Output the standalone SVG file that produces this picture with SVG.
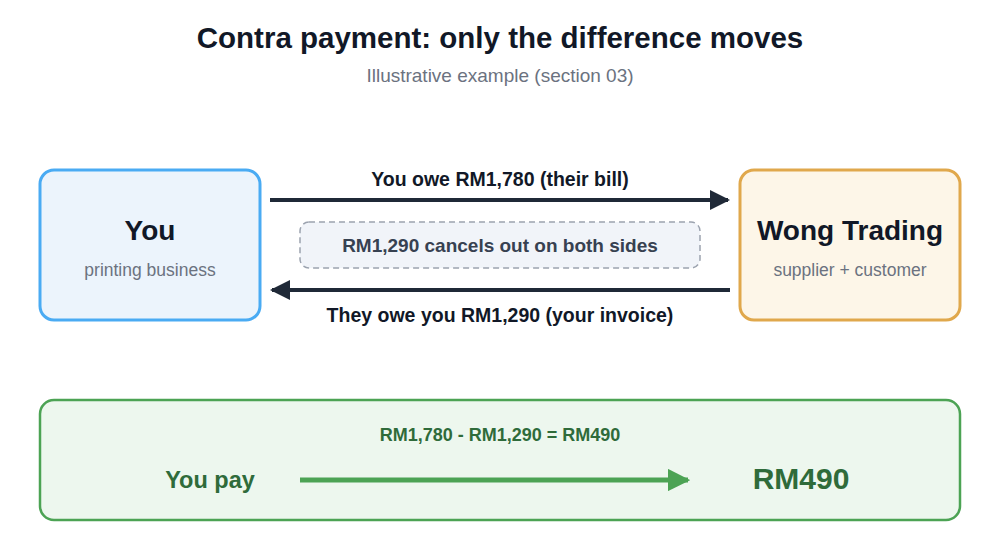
<svg xmlns="http://www.w3.org/2000/svg" width="1000" height="545" viewBox="0 0 1000 545">
<style>
text{font-family:"Liberation Sans",Arial,sans-serif;text-anchor:middle}
.t{font-size:29.5px;font-weight:bold;fill:#111827}
.s{font-size:19px;fill:#6b7280}
.n{font-size:28px;font-weight:bold;fill:#111827}
.d{font-size:17.5px;fill:#6b7280}
.l{font-size:19.5px;font-weight:bold;fill:#111827}
.g{fill:#2f6b3a;font-weight:bold}
</style>
<defs>
<marker id="ah" viewBox="0 0 10 10" refX="9" refY="5" markerWidth="5" markerHeight="5" orient="auto-start-reverse" markerUnits="strokeWidth"><path d="M0,0L10,5L0,10z" fill="#1f2937"/></marker>
<marker id="ag" viewBox="0 0 10 10" refX="9" refY="5" markerWidth="4.5" markerHeight="4.5" orient="auto" markerUnits="strokeWidth"><path d="M0,0L10,5L0,10z" fill="#4ca354"/></marker>
</defs>
<text class="t" x="500" y="48">Contra payment: only the difference moves</text>
<text class="s" x="500" y="82">Illustrative example (section 03)</text>
<g id="you"><rect x="40" y="170" width="220" height="150" rx="14" fill="#ecf4fc" stroke="#4aabf3" stroke-width="3"/>
<text class="n" x="150" y="240">You</text><text class="d" x="150" y="276">printing business</text></g>
<g id="wong"><rect x="740" y="170" width="220" height="150" rx="14" fill="#fdf6e8" stroke="#e0a84c" stroke-width="3"/>
<text class="n" x="850" y="240">Wong Trading</text><text class="d" x="850" y="276">supplier + customer</text></g>
<g id="note"><rect x="300" y="222" width="400" height="46" rx="9" fill="#f1f4f9" stroke="#9ca3af" stroke-width="1.5" stroke-dasharray="6 4"/>
<text x="500" y="252" style="font-size:19px;font-weight:bold;fill:#374151">RM1,290 cancels out on both sides</text></g>
<g id="connectors">
<line x1="270" y1="200" x2="728" y2="200" stroke="#1f2937" stroke-width="4" marker-end="url(#ah)"/>
<line x1="730" y1="290" x2="272" y2="290" stroke="#1f2937" stroke-width="4" marker-end="url(#ah)"/>
<text class="l" x="500" y="186">You owe RM1,780 (their bill)</text>
<text class="l" x="500" y="322">They owe you RM1,290 (your invoice)</text>
</g>
<g id="result"><rect x="40" y="400" width="920" height="120" rx="14" fill="#edf7ee" stroke="#4ca354" stroke-width="2.5"/>
<text x="500" y="441" style="font-size:18px;font-weight:bold;fill:#2f6b3a">RM1,780 - RM1,290 = RM490</text>
<text class="g" x="210" y="488" style="font-size:23.5px">You pay</text>
<text class="g" x="801" y="489" style="font-size:30px">RM490</text>
<line x1="300" y1="480" x2="688" y2="480" stroke="#4ca354" stroke-width="5" marker-end="url(#ag)"/></g>
</svg>
